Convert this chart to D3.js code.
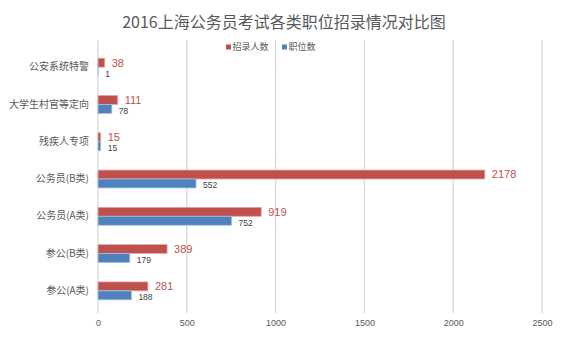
<!DOCTYPE html>
<html>
<head>
<meta charset="utf-8">
<script src="https://cdn.jsdelivr.net/npm/d3@7"></script>
<style>
  html, body { margin: 0; padding: 0; background: #fff; }
  svg { display: block; font-family: "Noto Sans CJK SC", "Noto Sans", sans-serif; }
</style>
</head>
<body>
<svg id="chart" width="563" height="339"></svg>
<script>
// Post categories, top to bottom
const categories = ["公安系统特警", "大学生村官等定向", "残疾人专项", "公务员(B类)", "公务员(A类)", "参公(B类)", "参公(A类)"];
// Number of people to recruit
const recruits = [38, 111, 15, 2178, 919, 389, 281];
// Number of posts
const positions = [1, 78, 15, 552, 752, 179, 188];
// Value axis ticks
const xTicks = [0, 500, 1000, 1500, 2000, 2500];
const seriesNames = ["招录人数", "职位数"];

const RED = "#C0504D", BLUE = "#4F81BD";
const NUM_FONT = "'Liberation Sans', 'DejaVu Sans', sans-serif";

const svg = d3.select("#chart");

const x = d3.scaleLinear().domain([0, 2500]).range([98, 542]);
const y = d3.scaleBand().domain(categories).range([48.5, 309.5]).paddingInner(0.52).paddingOuter(0.26);
const sub = d3.scaleBand().domain(seriesNames).range([0, y.bandwidth()]);

// Title
svg.append("text")
  .attr("x", 284).attr("y", 28)
  .attr("text-anchor", "middle")
  .attr("font-size", 16)
  .attr("fill", "#595959")
  .text("2016上海公务员考试各类职位招录情况对比图");

// Vertical gridlines
svg.append("g").selectAll("line").data(xTicks).join("line")
  .attr("x1", d => x(d)).attr("x2", d => x(d))
  .attr("y1", 40).attr("y2", 313)
  .attr("stroke", "#d9d9d9").attr("stroke-width", 1.3);

// Bottom axis labels
const xAxis = d3.axisBottom(x).tickValues(xTicks).tickFormat(d3.format("d")).tickSize(0).tickPadding(0);
const gx = svg.append("g").attr("transform", "translate(0,319)").call(xAxis);
gx.select(".domain").remove();
gx.selectAll("text")
  .attr("font-family", NUM_FONT)
  .attr("font-size", 9).attr("fill", "#595959").attr("dy", "0.75em");

// Category axis labels
const yAxis = d3.axisLeft(y).tickSize(0).tickPadding(0);
const gy = svg.append("g").attr("transform", "translate(89,0)").call(yAxis);
gy.select(".domain").remove();
gy.selectAll("text")
  .attr("font-family", "'Noto Sans CJK SC', sans-serif")
  .attr("font-size", 10).attr("fill", "#595959");

// Bars
const rows = categories.map((c, i) => ({ c, r: recruits[i], p: positions[i] }));

svg.append("g").selectAll("rect").data(rows).join("rect")
  .attr("x", x(0)).attr("y", d => y(d.c) + sub("招录人数"))
  .attr("width", d => x(d.r) - x(0)).attr("height", sub.bandwidth())
  .attr("fill", RED).attr("stroke", "#E0A9A8").attr("stroke-width", 0.8);

svg.append("g").selectAll("rect").data(rows).join("rect")
  .attr("x", x(0)).attr("y", d => y(d.c) + sub("职位数"))
  .attr("width", d => x(d.p) - x(0)).attr("height", sub.bandwidth())
  .attr("fill", BLUE).attr("stroke", "#A7C0DE").attr("stroke-width", 0.8);

// Value labels
svg.append("g").selectAll("text").data(rows).join("text")
  .attr("x", d => x(d.r) + 7)
  .attr("y", d => y(d.c) + sub("招录人数") + sub.bandwidth() / 2)
  .attr("dy", "0.35em")
  .attr("font-family", NUM_FONT)
  .attr("font-size", 11).attr("fill", RED)
  .text(d => d.r);

svg.append("g").selectAll("text").data(rows).join("text")
  .attr("x", d => x(d.p) + 7)
  .attr("y", d => y(d.c) + sub("职位数") + sub.bandwidth() / 2 + 2)
  .attr("dy", "0.35em")
  .attr("font-family", NUM_FONT)
  .attr("font-size", 8.5).attr("fill", "#404040")
  .text(d => d.p);

// Legend
const legend = [
  { name: "招录人数", color: RED, x: 226 },
  { name: "职位数", color: BLUE, x: 282 }
];
const lg = svg.append("g").selectAll("g").data(legend).join("g")
  .attr("transform", d => `translate(${d.x},47)`);
lg.append("rect").attr("x", 0).attr("y", -2.5).attr("width", 5).attr("height", 5).attr("fill", d => d.color);
lg.append("text").attr("x", 6.5).attr("y", 0).attr("dy", "0.36em")
  .attr("font-size", 9).attr("fill", "#595959").text(d => d.name);
</script>
</body>
</html>
